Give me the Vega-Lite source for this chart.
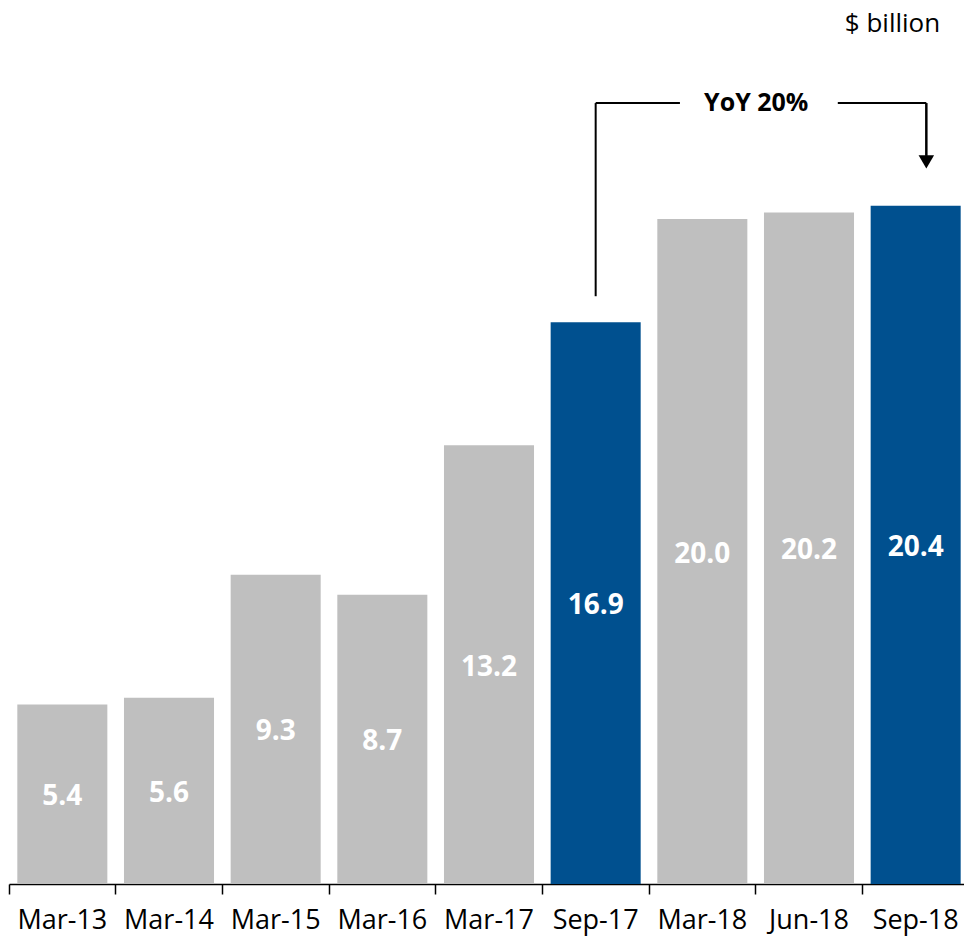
{
  "$schema": "https://vega.github.io/schema/vega-lite/v6.json",
  "width": 960,
  "height": 884,
  "autosize": "none",
  "padding": {"left": 9, "top": 0, "right": 0, "bottom": 58},
  "background": "white",
  "config": {"view": {"stroke": null}, "font": "Open Sans"},
  "encoding": {
    "x": {"field": "label", "type": "nominal", "sort": null,
      "scale": {"paddingInner": 0, "paddingOuter": 0, "domain": ["Mar-13", "Mar-14", "Mar-15", "Mar-16", "Mar-17", "Sep-17", "Mar-18", "Jun-18", "Sep-18"]},
      "axis": {"title": null, "labelAngle": 0, "bandPosition": 0,
        "labelFontSize": 27, "labelColor": "#000000", "labelFont": "Open Sans",
        "labelPadding": 13, "tickSize": 10, "tickColor": "#000000", "tickWidth": 1.5,
        "domainColor": "#000000", "domainWidth": 1.5, "grid": false}}
  },
  "layer": [
    {
      "data": {"values": [
        {"label": "Mar-13", "value": 5.4},
        {"label": "Mar-14", "value": 5.6},
        {"label": "Mar-15", "value": 9.3},
        {"label": "Mar-16", "value": 8.7},
        {"label": "Mar-17", "value": 13.2},
        {"label": "Sep-17", "value": 16.9},
        {"label": "Mar-18", "value": 20.0},
        {"label": "Jun-18", "value": 20.2},
        {"label": "Sep-18", "value": 20.4}
      ]},
      "layer": [
        {
          "mark": {"type": "bar", "width": {"band": 0.844}},
          "encoding": {
            "y": {"field": "value", "type": "quantitative", "scale": {"domain": [0, 26.59], "nice": false}, "axis": null},
            "color": {"condition": {"test": "datum.label == 'Sep-17' || datum.label == 'Sep-18'", "value": "#00508F"}, "value": "#BFBFBF"}
          }
        },
        {
          "transform": [{"calculate": "datum.value / 2", "as": "mid"}],
          "mark": {"type": "text", "fill": "white", "fontWeight": "bold", "fontSize": 28, "baseline": "middle", "dy": 3, "font": "Open Sans"},
          "encoding": {
            "y": {"field": "mid", "type": "quantitative"},
            "text": {"field": "value", "type": "quantitative", "format": ".1f"}
          }
        }
      ]
    },
    {
      "data": {"values": [{"note": "YoY 20%"}]},
      "layer": [
        {
          "mark": {"type": "rule", "color": "#000000", "strokeWidth": 2},
          "encoding": {
            "x": {"datum": "Sep-17", "bandPosition": 0.5},
            "y": {"datum": 17.68},
            "y2": {"datum": 23.49}
          }
        },
        {
          "mark": {"type": "rule", "color": "#000000", "strokeWidth": 2},
          "encoding": {
            "x": {"datum": "Sep-17", "bandPosition": 0.5},
            "x2": {"datum": "Mar-18", "bandPosition": 0.29},
            "y": {"datum": 23.49}
          }
        },
        {
          "mark": {"type": "rule", "color": "#000000", "strokeWidth": 2},
          "encoding": {
            "x": {"datum": "Jun-18", "bandPosition": 0.77},
            "x2": {"datum": "Sep-18", "bandPosition": 0.6},
            "y": {"datum": 23.49}
          }
        },
        {
          "mark": {"type": "rule", "color": "#000000", "strokeWidth": 2.5},
          "encoding": {
            "x": {"datum": "Sep-18", "bandPosition": 0.6},
            "y": {"datum": 23.49},
            "y2": {"datum": 21.9}
          }
        },
        {
          "mark": {"type": "point", "shape": "triangle-down", "filled": true, "fill": "#000000", "strokeWidth": 0, "size": 240, "opacity": 1},
          "encoding": {
            "x": {"datum": "Sep-18", "bandPosition": 0.6},
            "y": {"datum": 21.72}
          }
        },
        {
          "mark": {"type": "text", "fontWeight": "bold", "fontSize": 25, "baseline": "middle", "align": "center", "fill": "#000000", "font": "Open Sans"},
          "encoding": {
            "x": {"datum": "Jun-18", "bandPosition": 0.005},
            "y": {"datum": 23.49},
            "text": {"field": "note"}
          }
        },
        {
          "mark": {"type": "text", "text": "$ billion", "fontSize": 26, "fontWeight": "normal", "baseline": "middle", "align": "right", "fill": "#000000", "font": "Open Sans"},
          "encoding": {
            "x": {"datum": "Sep-18", "bandPosition": 0.73},
            "y": {"datum": 25.86}
          }
        }
      ]
    }
  ]
}
